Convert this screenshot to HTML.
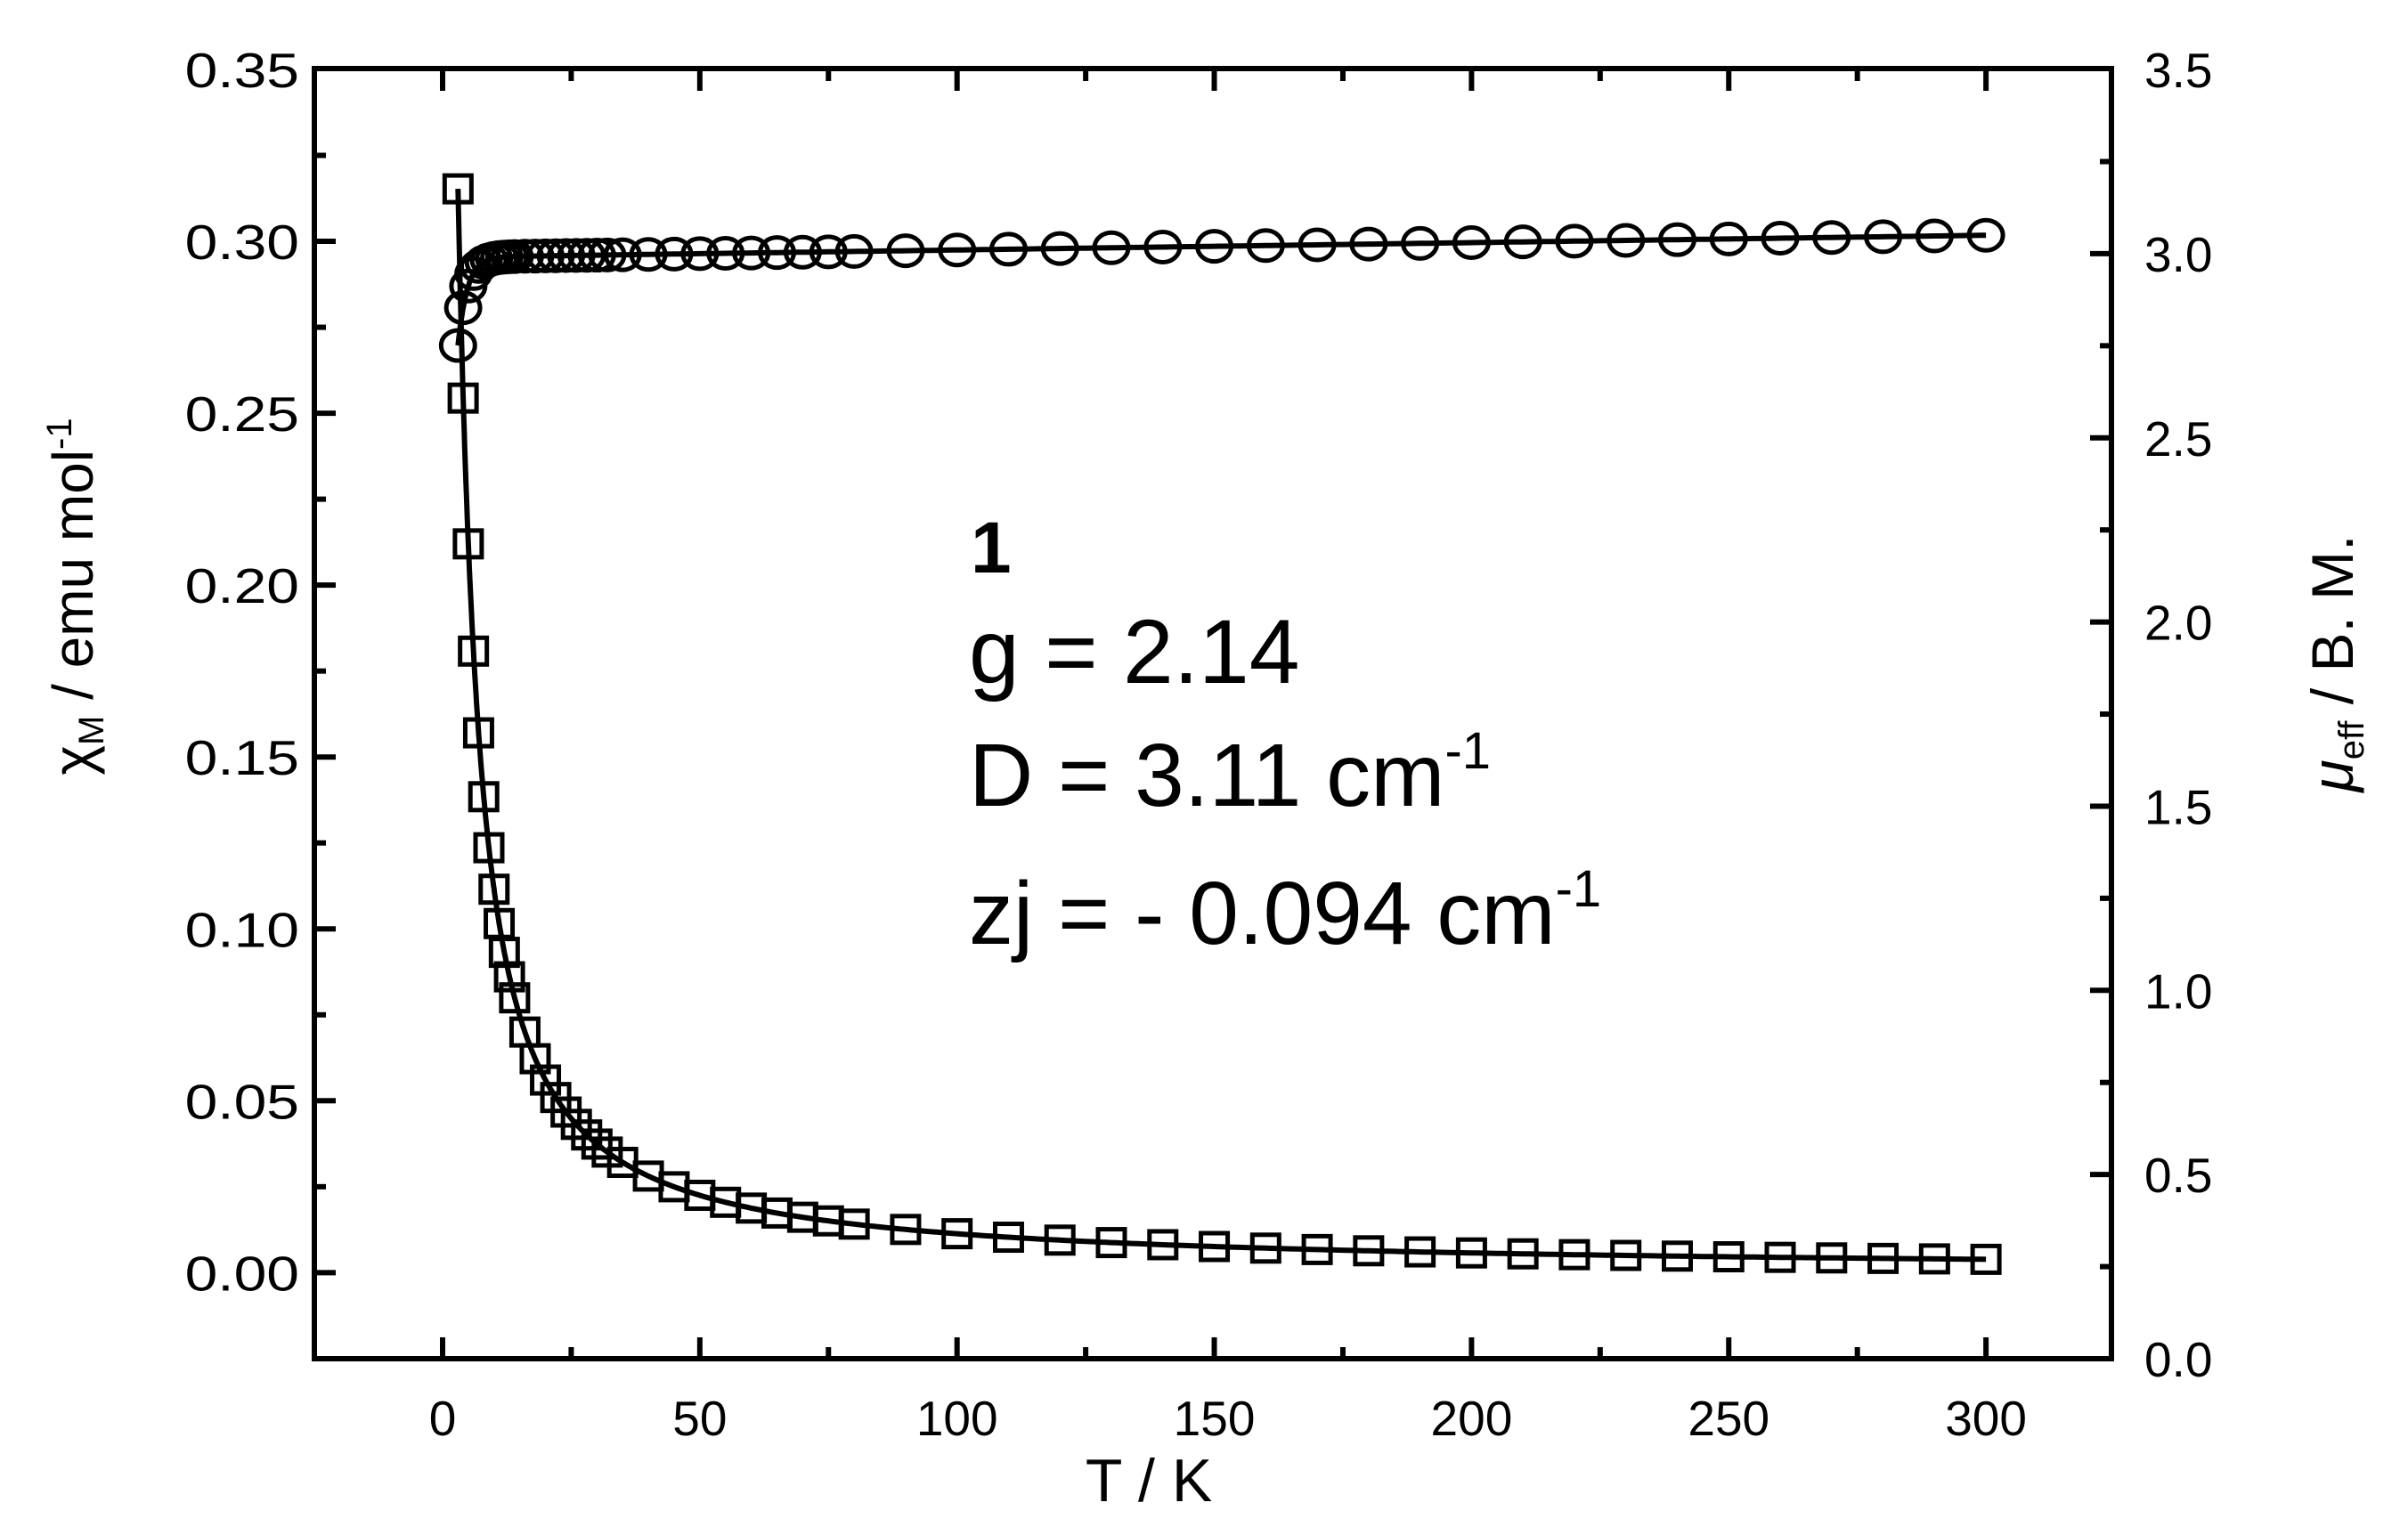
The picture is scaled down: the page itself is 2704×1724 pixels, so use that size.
<!DOCTYPE html>
<html><head><meta charset="utf-8"><style>
html,body{margin:0;padding:0;background:#fff;}
svg{display:block;font-family:"Liberation Sans",Arial,sans-serif;}
</style></head><body>
<svg id="s" width="2704" height="1724" viewBox="0 0 2704 1724" xmlns="http://www.w3.org/2000/svg">
<rect width="2704" height="1724" fill="#fff"/>
<rect x="353" y="77" width="2018" height="1449" fill="none" stroke="#000" stroke-width="6"/>
<g id="ticks" stroke="#000" stroke-width="6"></g>
<g id="labels" font-size="55" fill="#000"></g>
<g id="data"></g>
<text x="1290" y="1686" font-size="68" text-anchor="middle">T / K</text>
<text transform="translate(104,670) rotate(-90)" font-size="64" text-anchor="middle">χ<tspan font-size="40" dy="12">M</tspan><tspan dy="-12"> / emu mol</tspan><tspan font-size="40" dy="-24">-1</tspan></text>
<text transform="translate(2642,745) rotate(-90)" font-size="66" text-anchor="middle"><tspan font-style="italic">μ</tspan><tspan font-size="40" dy="12">eff</tspan><tspan dy="-12"> / B. M.</tspan></text>
<text x="1090" y="643" font-size="82" font-weight="bold">1</text>
<text x="1088" y="767" font-size="102">g = 2.14</text>
<text x="1088" y="905" font-size="100">D = 3.11 cm<tspan font-size="58" dy="-42">-1</tspan></text>
<text x="1088" y="1060" font-size="100">zj = - 0.094 cm<tspan font-size="58" dy="-42">-1</tspan></text>
</svg>
<script>
var NS="http://www.w3.org/2000/svg";
function X(T){return 497+T*5.777;}
function YL(v){return 78+(0.35-v)*3861;}
function YR(m){return 1526-m*413.7;}
function el(p,tag,a,txt){var e=document.createElementNS(NS,tag);for(var k in a)e.setAttribute(k,a[k]);if(txt!==undefined)e.textContent=txt;p.appendChild(e);return e;}
var tk=document.getElementById('ticks'),lb=document.getElementById('labels'),dt=document.getElementById('data');
for(var T=-25;T<=325;T+=25){var x=X(T);if(x<356||x>2368)continue;var maj=(T%50===0);
 el(tk,'line',{x1:x,y1:1526,x2:x,y2:1526-(maj?24:13)});el(tk,'line',{x1:x,y1:78,x2:x,y2:78+(maj?24:13)});
 if(maj)el(lb,'text',{x:x,y:1612,'text-anchor':'middle'},String(T));}
for(var i=-1;i<=14;i++){var v=i*0.025;var y=YL(v);if(y<70||y>1524)continue;var maj=(i%2===0);
 if(y>82)el(tk,'line',{x1:353,y1:y,x2:353+(maj?24:13),y2:y});
 if(maj)el(lb,'text',{'text-anchor':'end',transform:'translate(336,'+(y+20)+') scale(1.2,1)'},v.toFixed(2));}
for(var i=0;i<=14;i++){var m=i*0.25;var y=YR(m);var maj=(i%2===0);
 if(y>82&&y<1522)el(tk,'line',{x1:2371,y1:y,x2:2371-(maj?24:13),y2:y});
 if(maj)el(lb,'text',{x:2408,y:y+20,'text-anchor':'start'},m.toFixed(1));}
var Ts=[3,4,5,6,7,8,9,10,11,12,13,14,16,18,20,22,24,26,28,30,32,35,40,45,50,55,60,65,70,75,80];
for(var t=90;t<=300;t+=10)Ts.push(t);
function mu(T){return 2.99+0.0002*T-1.27*Math.exp(-T/1.8);}
function chi(T){var m=mu(T);return m*m/(8*T);}
var p1="",p2="";
for(var T=3;T<=300;T+=(T<20?0.1:1)){p1+=(p1?"L":"M")+X(T).toFixed(1)+","+YL(chi(T)).toFixed(1);p2+=(p2?"L":"M")+X(T).toFixed(1)+","+YR(mu(T)).toFixed(1);}
el(dt,'path',{d:p1,fill:'none',stroke:'#000','stroke-width':6});
el(dt,'path',{d:p2,fill:'none',stroke:'#000','stroke-width':6});
Ts.forEach(function(T){var x=X(T);
 el(dt,'rect',{x:x-15,y:YL(chi(T))-15,width:30,height:30,fill:'none',stroke:'#000','stroke-width':5});
 el(dt,'ellipse',{cx:x,cy:YR(mu(T)),rx:19,ry:17,fill:'none',stroke:'#000','stroke-width':5});});
</script>
</body></html>
